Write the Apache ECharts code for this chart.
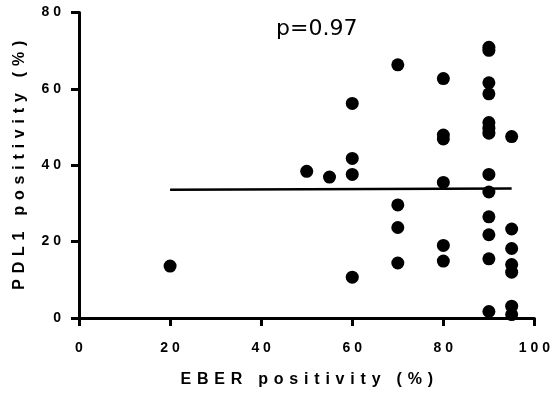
<!DOCTYPE html>
<html>
<head>
<meta charset="utf-8">
<script src="https://cdn.jsdelivr.net/npm/echarts@6/dist/echarts.min.js"></script>
<style>
  html, body { margin: 0; padding: 0; background: #fff; }
  #chart { width: 553px; height: 404px; }
</style>
</head>
<body>
<div id="chart"></div>
<script>
// ── data ──
const eber = [20, 50, 55, 60, 60, 60, 60, 70, 70, 70, 70,
  80, 80, 80, 80, 80, 80,
  90, 90, 90, 90, 90, 90, 90, 90, 90, 90, 90, 90, 90,
  95, 95, 95, 95, 95, 95, 95];
const pdl1 = [13.6, 38.4, 36.9, 56.2, 41.8, 37.6, 10.7, 66.3, 29.6, 23.7, 14.4,
  62.7, 47.9, 46.9, 35.5, 19.0, 14.9,
  70.9, 70.1, 61.6, 58.7, 51.2, 49.7, 48.4, 37.6, 33.0, 26.5, 21.8, 15.5, 1.7,
  47.5, 23.3, 18.2, 14.0, 12.0, 3.1, 0.9];
const fitX = [20, 95];
const fitY = [33.6, 33.9];
const xTicks = [0, 20, 40, 60, 80, 100];
const yTicks = [0, 20, 40, 60, 80];
const xTitle = 'EBER positivity (%)';
const yTitle = 'PDL1 positivity (%)';
const pText = 'p=0.97';

// spaced-out lettering like the original figure
const spaced = (s, gap) => s.split('').join(gap || ' ');

const chart = echarts.init(document.getElementById('chart'));
const axisFont = { color: '#000', fontFamily: 'Liberation Sans, Arial', fontWeight: 'bold' };

chart.setOption({
  animation: false,
  grid: { left: 79, right: 18, top: 12.5, bottom: 86 },
  title: {
    text: pText, left: 271, top: 13,
    textStyle: { fontFamily: 'DejaVu Sans', fontWeight: 'normal', fontSize: 22, color: '#000' }
  },
  xAxis: {
    type: 'value', min: 0, max: 100, interval: 20,
    name: spaced(xTitle, ' \u200A'), nameLocation: 'middle', nameGap: 54,
    nameTextStyle: { ...axisFont, fontSize: 16 },
    axisLine: { lineStyle: { color: '#000', width: 3 } },
    axisTick: { length: 8, lineStyle: { color: '#000', width: 3 } },
    axisLabel: { ...axisFont, fontSize: 14, margin: 23,
      formatter: v => xTicks.includes(v) ? spaced(String(v)) : '' },
    splitLine: { show: false }
  },
  yAxis: {
    type: 'value', min: 0, max: 80, interval: 20,
    name: spaced(yTitle, ' \u200A'), nameLocation: 'middle', nameGap: 51,
    nameTextStyle: { ...axisFont, fontSize: 16 },
    axisLine: { show: true, lineStyle: { color: '#000', width: 3 } },
    axisTick: { show: true, length: 8, lineStyle: { color: '#000', width: 3 } },
    axisLabel: { ...axisFont, fontSize: 14, margin: 18,
      formatter: v => yTicks.includes(v) ? spaced(String(v)) : '' },
    splitLine: { show: false }
  },
  series: [
    {
      type: 'line', data: fitX.map((x, i) => [x, fitY[i]]),
      symbol: 'none', lineStyle: { color: '#000', width: 2.5 }, z: 1
    },
    {
      type: 'scatter', data: eber.map((x, i) => [x, pdl1[i]]),
      symbolSize: 13, itemStyle: { color: '#000', opacity: 1 }, z: 2
    }
  ]
});
</script>
</body>
</html>
